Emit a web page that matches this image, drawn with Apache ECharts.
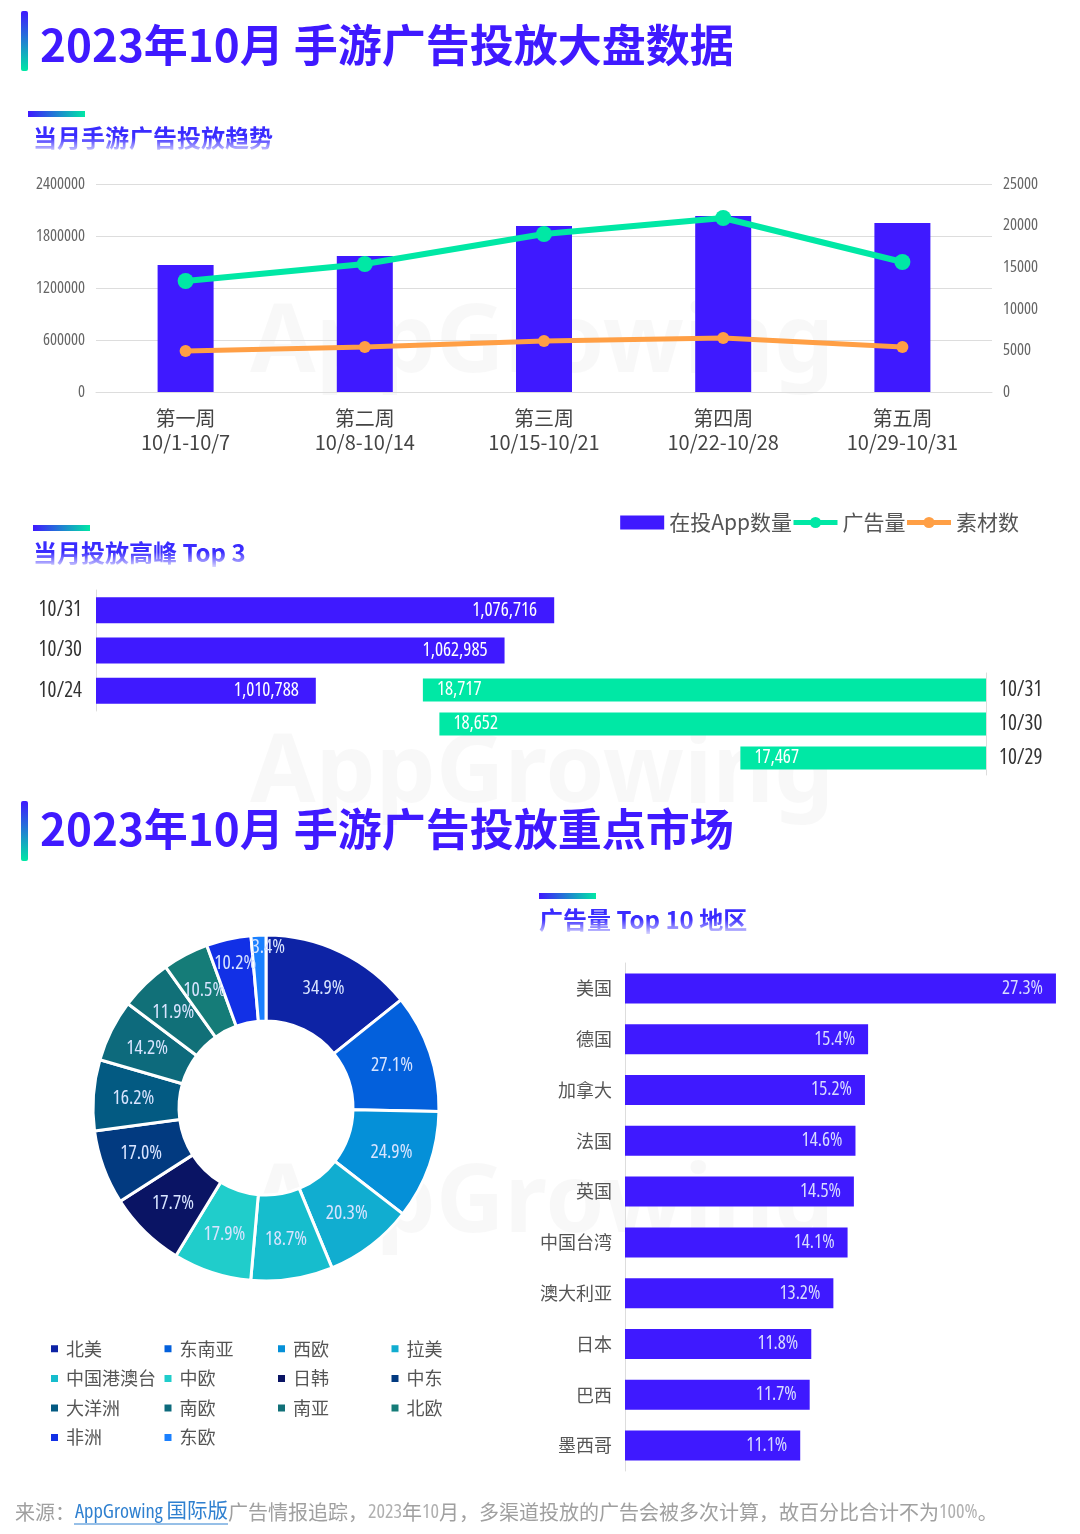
<!DOCTYPE html>
<html>
<head>
<meta charset="utf-8">
<script src="https://cdn.jsdelivr.net/npm/echarts@6/dist/echarts.min.js"></script>
<style>
html, body { margin: 0; padding: 0; background: #fff; }
#chart { width: 1080px; height: 1534px; }
</style>
</head>
<body>
<div id="chart"></div>
<script>
const weeks = ['第一周\n10/1-10/7', '第二周\n10/8-10/14', '第三周\n10/15-10/21', '第四周\n10/22-10/28', '第五周\n10/29-10/31'];
const appCounts = [1465000, 1570000, 1915000, 2030000, 1950000];
const adCounts = [13340, 15385, 18990, 20910, 15625];
const creativeCounts = [4930, 5410, 6130, 6490, 5410];

const appPeakDays = ['10/31', '10/30', '10/24'];
const appPeakValues = [1076716, 1062985, 1010788];
const adPeakDays = ['10/31', '10/30', '10/29'];
const adPeakValues = [18717, 18652, 17467];

const marketNames = ['北美', '东南亚', '西欧', '拉美', '中国港澳台', '中欧', '日韩', '中东', '大洋洲', '南欧', '南亚', '北欧', '非洲', '东欧'];
const marketValues = [34.9, 27.1, 24.9, 20.3, 18.7, 17.9, 17.7, 17.0, 16.2, 14.2, 11.9, 10.5, 10.2, 3.4];
const marketColors = ['#0D23A5', '#0360DC', '#0590D8', '#11ADD0', '#16BDCD', '#20CDCB', '#0A1464', '#023A80', '#035A82', '#0D6A7C', '#117078', '#157C78', '#1230E6', '#1A80FF'];

const regionNames = ['美国', '德国', '加拿大', '法国', '英国', '中国台湾', '澳大利亚', '日本', '巴西', '墨西哥'];
const regionValues = [27.3, 15.4, 15.2, 14.6, 14.5, 14.1, 13.2, 11.8, 11.7, 11.1];

const CJK = '"Noto Sans CJK SC", "Noto Sans", sans-serif';
const NARROW = '"Open Sans", "Noto Sans CJK SC", sans-serif';
// 数字用窄体: fontStyle 会直接拼进 canvas font 字符串
const narrow = { fontStyle: 'condensed', fontFamily: NARROW };
const BLUE = '#3F19FF';
const GREEN = '#00E8A5';
const ORANGE = '#FF9F45';
const LINE_GREY = '#DDDDDD';

const fmt = (v) => v.toLocaleString('en-US');

// 标题竖条 / 小标题横条的渐变
const vGrad = { type: 'linear', x: 0, y: 0, x2: 0, y2: 1, colorStops: [{ offset: 0, color: BLUE }, { offset: 1, color: GREEN }] };
const hGrad = { type: 'linear', x: 0, y: 0, x2: 1, y2: 0, colorStops: [{ offset: 0, color: BLUE }, { offset: 1, color: GREEN }] };
const fadeGrad = { type: 'linear', x: 0, y: 0, x2: 0, y2: 1, colorStops: [{ offset: 0, color: 'rgba(255,255,255,0)' }, { offset: 0.45, color: 'rgba(255,255,255,0)' }, { offset: 1, color: 'rgba(255,255,255,0.8)' }] };

function mainTitle(barTop, y, text) {
    return [
        { type: 'rect', shape: { x: 21, y: barTop, width: 7, height: 60, r: 2 }, style: { fill: vGrad } },
        { type: 'text', x: 40, y: y, style: { text: text, fill: BLUE, font: 'bold 44px ' + CJK, verticalAlign: 'middle' } }
    ];
}
function subTitle(barX, barY, textX, y, width, text) {
    return [
        { type: 'rect', shape: { x: barX, y: barY, width: 57, height: 6 }, style: { fill: hGrad } },
        { type: 'text', x: textX, y: y, style: { text: text, fill: '#3A2CFF', font: 'bold 24px ' + CJK, verticalAlign: 'middle' } },
        // 文字下半部分淡出
        { type: 'rect', shape: { x: textX - 2, y: y - 13, width: width, height: 27 }, style: { fill: fadeGrad } }
    ];
}
function watermark(y) {
    return { type: 'text', z: 0, x: 250, y: y, style: { text: 'AppGrowing', fill: 'rgba(0,0,0,0.028)', font: 'bold 95px "Noto Sans", sans-serif', verticalAlign: 'middle' } };
}

const myChart = echarts.init(document.getElementById('chart'), null, { renderer: 'canvas' });

const option = {
    backgroundColor: '#fff',
    animation: false,
    textStyle: { fontFamily: CJK },
    graphic: [
        watermark(345), watermark(775), watermark(1205),
        ...mainTitle(11, 45, '2023年10月 手游广告投放大盘数据'),
        ...mainTitle(801, 829, '2023年10月 手游广告投放重点市场'),
        ...subTitle(28, 111, 33, 138, 244, '当月手游广告投放趋势'),
        ...subTitle(33, 525, 33, 553, 216, '当月投放高峰 Top 3'),
        ...subTitle(539, 893, 539, 920, 212, '广告量 Top 10 地区'),
        {
            type: 'text', x: 15, y: 1512,
            style: {
                text: '{g|来源：}{b|AppGrowing 国际版}{g|广告情报追踪，}{n|2023}{g|年}{n|10}{g|月，多渠道投放的广告会被多次计算，故百分比合计不为}{n|100%}{g|。}',
                verticalAlign: 'middle',
                rich: {
                    g: { fill: '#A0A0A0', font: '20px ' + CJK },
                    n: { fill: '#B0B0B0', font: 'condensed 20px ' + NARROW },
                    b: { fill: '#2F80D0', font: 'condensed 20.5px ' + NARROW }
                }
            }
        },
        { type: 'line', shape: { x1: 74, y1: 1524, x2: 228, y2: 1524 }, style: { stroke: '#2F80D0', lineWidth: 1 } }
    ],
    legend: [
        {
            data: [{ name: '在投App数量', icon: 'rect' }, '广告量', '素材数'],
            right: 61, top: 512, padding: 0,
            itemWidth: 44, itemHeight: 14, itemGap: -1, symbolSize: 12,
            lineStyle: { width: 5 },
            textStyle: { color: '#555', fontSize: 21, fontFamily: CJK }
        },
        {
            data: marketNames,
            left: 49, top: 1334, width: 470, padding: 0,
            orient: 'horizontal',
            icon: 'rect',
            itemWidth: 9, itemHeight: 9, itemGap: 0,
            textStyle: { color: '#555', fontSize: 18, fontFamily: CJK, width: 96.5, height: 29.6, lineHeight: 29.6, overflow: 'none', padding: [0, 0, 0, 2] }
        }
    ],
    grid: [
        { left: 96, top: 184, width: 896, height: 208 },
        { left: 96, top: 590, width: 904, height: 121 },
        { left: 97, top: 673, width: 889, height: 102 },
        { left: 625, top: 963, width: 442, height: 508 }
    ],
    xAxis: [
        {
            gridIndex: 0, type: 'category', data: weeks,
            axisTick: { show: false },
            axisLine: { lineStyle: { color: LINE_GREY } },
            axisLabel: { color: '#444', fontSize: 20, lineHeight: 24, margin: 14, fontFamily: CJK }
        },
        { gridIndex: 1, type: 'value', min: 950000, max: 1200000, show: false },
        { gridIndex: 2, type: 'value', min: 16500, max: 20000, inverse: true, show: false },
        { gridIndex: 3, type: 'value', min: 0, max: 28, show: false }
    ],
    yAxis: [
        {
            gridIndex: 0, type: 'value', min: 0, max: 2400000, interval: 600000,
            axisLine: { show: false }, axisTick: { show: false },
            axisLabel: { color: '#666', fontSize: 16.5, margin: 11, padding: [2, 0, 0, 0], ...narrow, formatter: (v) => String(v) },
            splitLine: { lineStyle: { color: LINE_GREY } }
        },
        {
            gridIndex: 0, type: 'value', position: 'right', min: 0, max: 25000, interval: 5000,
            axisLine: { show: false }, axisTick: { show: false },
            axisLabel: { color: '#666', fontSize: 16.5, margin: 11, padding: [2, 0, 0, 0], ...narrow, formatter: (v) => String(v) },
            splitLine: { show: false }
        },
        {
            gridIndex: 1, type: 'category', data: appPeakDays, inverse: true,
            axisTick: { show: false },
            axisLine: { lineStyle: { color: LINE_GREY } },
            axisLabel: { color: '#333', fontSize: 21, margin: 14, ...narrow }
        },
        {
            gridIndex: 2, type: 'category', data: adPeakDays, inverse: true, position: 'right',
            axisTick: { show: false },
            axisLine: { onZero: false, lineStyle: { color: LINE_GREY } },
            axisLabel: { color: '#333', fontSize: 21, margin: 13, ...narrow }
        },
        {
            gridIndex: 3, type: 'category', data: regionNames, inverse: true,
            axisTick: { show: false },
            axisLine: { lineStyle: { color: LINE_GREY } },
            axisLabel: { color: '#555', fontSize: 18, margin: 13, padding: [0, 0, 2, 0], fontFamily: CJK }
        }
    ],
    series: [
        {
            name: '在投App数量', type: 'bar', xAxisIndex: 0, yAxisIndex: 0,
            data: appCounts, barWidth: 56, itemStyle: { color: BLUE }
        },
        {
            name: '广告量', type: 'line', xAxisIndex: 0, yAxisIndex: 1,
            data: adCounts, symbol: 'circle', symbolSize: 16,
            lineStyle: { color: GREEN, width: 6 }, itemStyle: { color: GREEN }
        },
        {
            name: '素材数', type: 'line', xAxisIndex: 0, yAxisIndex: 1,
            data: creativeCounts, symbol: 'circle', symbolSize: 12,
            lineStyle: { color: ORANGE, width: 5 }, itemStyle: { color: ORANGE }
        },
        {
            type: 'bar', xAxisIndex: 1, yAxisIndex: 2,
            data: appPeakValues, barWidth: 26, itemStyle: { color: BLUE },
            label: {
                show: true, position: 'insideRight', distance: 17,
                color: '#fff', fontSize: 19, ...narrow,
                formatter: (p) => fmt(p.value)
            }
        },
        {
            type: 'bar', xAxisIndex: 2, yAxisIndex: 3,
            data: adPeakValues, barWidth: 23, itemStyle: { color: GREEN },
            label: {
                show: true, position: 'insideLeft', distance: 14,
                color: '#fff', fontSize: 19, ...narrow,
                formatter: (p) => fmt(p.value)
            }
        },
        {
            type: 'bar', xAxisIndex: 3, yAxisIndex: 4,
            data: regionValues, barWidth: 30, itemStyle: { color: BLUE },
            label: {
                show: true, position: 'insideRight', distance: 13,
                color: '#D8DCFF', fontSize: 19, ...narrow,
                formatter: (p) => p.value.toFixed(1) + '%'
            }
        },
        {
            type: 'pie', center: [266, 1108], radius: [87, 173],
            data: marketNames.map((name, i) => ({ name: name, value: marketValues[i], itemStyle: { color: marketColors[i] } })),
            itemStyle: { borderColor: '#fff', borderWidth: 3 },
            label: {
                show: true, position: 'inside',
                color: '#D8E4FF', fontSize: 19.5, ...narrow,
                formatter: (p) => p.value.toFixed(1) + '%'
            },
            labelLine: { show: false },
            // 最小的两块标签往外挪
            labelLayout: (p) => {
                if (p.dataIndex === 13) return { dx: 8, dy: -28 };
                if (p.dataIndex === 12) return { dx: -2, dy: -15 };
                return {};
            }
        }
    ]
};

option && myChart.setOption(option);
window.addEventListener('resize', () => {
    myChart && myChart.resize();
});
</script>
</body>
</html>
